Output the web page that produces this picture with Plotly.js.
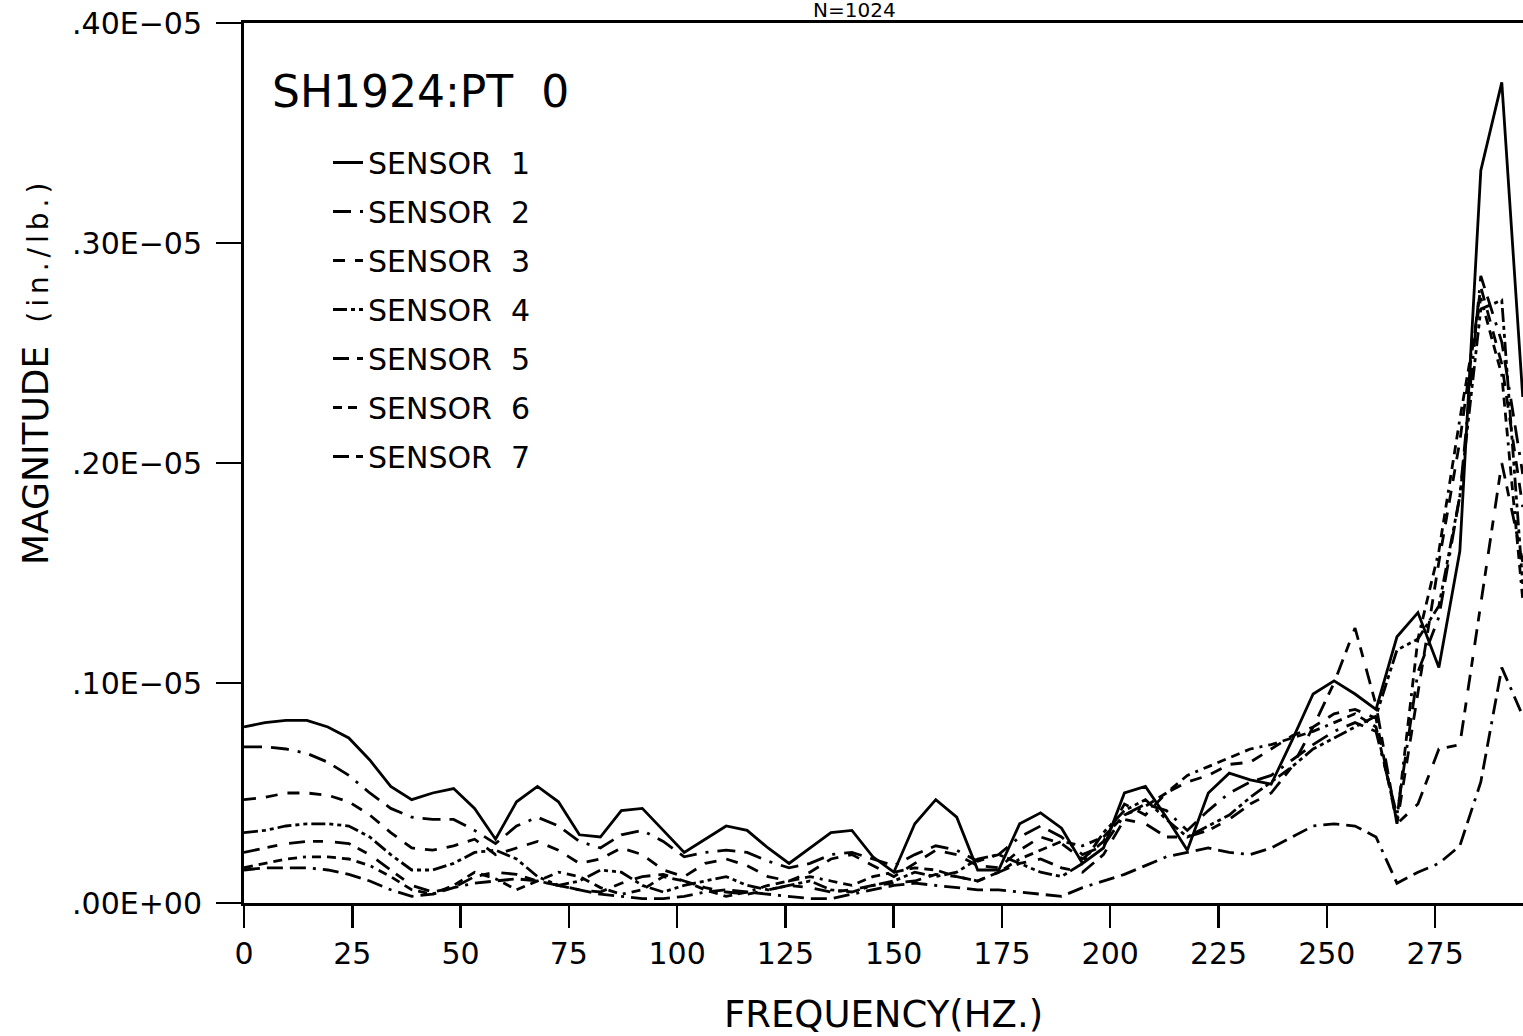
<!DOCTYPE html>
<html>
<head>
<meta charset="utf-8">
<script src="https://cdn.plot.ly/plotly-3.0.1.min.js"></script>
<style>html,body{margin:0;padding:0;background:#fff;}#chart{width:1523px;height:1036px;}</style>
</head>
<body>
<div id="chart"></div>
<script>
// Frequency (Hz) of each spectral line
const freq = [0, 4.84, 9.68, 14.52, 19.36, 24.2, 29.04, 33.88, 38.72, 43.56, 48.4, 53.24, 58.08, 62.92, 67.76, 72.6, 77.44, 82.28, 87.12, 91.96, 96.8, 101.64, 106.48, 111.32, 116.16, 121, 125.84, 130.68, 135.52, 140.36, 145.2, 150.04, 154.88, 159.72, 164.56, 169.4, 174.24, 179.08, 183.92, 188.76, 193.6, 198.44, 203.28, 208.12, 212.96, 217.8, 222.64, 227.48, 232.32, 237.16, 242, 246.84, 251.68, 256.52, 261.36, 266.2, 271.04, 275.88, 280.72, 285.56, 290.4, 295.24];

// Magnitudes in units of 1E-06 in./lb.
const sensor1 = [0.80,0.82,0.83,0.83,0.80,0.75,0.65,0.53,0.47,0.50,0.52,0.43,0.29,0.46,0.53,0.46,0.31,0.30,0.42,0.43,0.33,0.23,0.29,0.35,0.33,0.25,0.18,0.25,0.32,0.33,0.21,0.14,0.36,0.47,0.39,0.15,0.15,0.36,0.41,0.34,0.18,0.25,0.50,0.53,0.39,0.24,0.50,0.59,0.56,0.54,0.74,0.95,1.01,0.95,0.88,1.21,1.32,1.07,1.60,3.33,3.73,2.30];
const sensor2 = [0.71,0.71,0.70,0.68,0.64,0.58,0.50,0.43,0.39,0.38,0.38,0.33,0.27,0.35,0.39,0.35,0.28,0.25,0.31,0.33,0.28,0.21,0.23,0.24,0.23,0.19,0.16,0.18,0.22,0.23,0.20,0.17,0.22,0.26,0.24,0.19,0.22,0.30,0.35,0.30,0.22,0.26,0.40,0.45,0.42,0.33,0.42,0.50,0.55,0.58,0.65,0.72,0.78,0.82,0.78,0.40,1.05,1.30,1.85,2.85,2.55,1.95];
const sensor3 = [0.47,0.48,0.50,0.50,0.49,0.46,0.40,0.32,0.25,0.24,0.26,0.29,0.22,0.25,0.28,0.24,0.18,0.20,0.25,0.22,0.15,0.12,0.18,0.20,0.17,0.12,0.10,0.14,0.20,0.22,0.17,0.12,0.18,0.24,0.22,0.17,0.16,0.24,0.30,0.27,0.20,0.28,0.45,0.40,0.50,0.55,0.58,0.63,0.64,0.70,0.76,0.80,0.86,0.88,0.84,0.36,0.95,1.55,2.10,2.80,2.45,1.80];
const sensor4 = [0.32,0.33,0.35,0.36,0.36,0.35,0.30,0.22,0.15,0.15,0.18,0.23,0.24,0.20,0.12,0.08,0.10,0.15,0.14,0.08,0.05,0.08,0.10,0.12,0.08,0.06,0.08,0.10,0.06,0.05,0.08,0.10,0.14,0.12,0.14,0.20,0.22,0.18,0.14,0.12,0.18,0.32,0.42,0.47,0.38,0.30,0.35,0.40,0.48,0.55,0.62,0.70,0.75,0.80,0.85,1.15,1.20,1.35,1.85,2.70,2.74,1.45];
const sensor5 = [0.23,0.25,0.27,0.28,0.28,0.27,0.22,0.15,0.08,0.05,0.07,0.12,0.14,0.13,0.10,0.08,0.06,0.05,0.09,0.12,0.13,0.10,0.07,0.05,0.04,0.06,0.08,0.07,0.05,0.06,0.08,0.09,0.10,0.13,0.12,0.10,0.14,0.18,0.20,0.16,0.14,0.22,0.38,0.36,0.30,0.30,0.33,0.38,0.45,0.50,0.62,0.80,1.00,1.25,0.90,0.36,0.45,0.70,0.72,1.35,2.00,1.55];
const sensor6 = [0.16,0.18,0.20,0.21,0.21,0.20,0.17,0.12,0.06,0.04,0.08,0.14,0.11,0.06,0.10,0.14,0.12,0.07,0.04,0.06,0.12,0.10,0.06,0.03,0.05,0.08,0.10,0.12,0.10,0.08,0.12,0.14,0.16,0.15,0.12,0.10,0.14,0.20,0.24,0.28,0.26,0.30,0.40,0.44,0.50,0.58,0.62,0.66,0.70,0.72,0.75,0.78,0.82,0.86,0.80,0.38,1.20,1.60,2.20,2.75,2.40,1.38];
const sensor7 = [0.15,0.16,0.16,0.16,0.15,0.13,0.10,0.06,0.03,0.04,0.07,0.09,0.10,0.11,0.10,0.08,0.06,0.04,0.03,0.02,0.02,0.03,0.05,0.06,0.05,0.04,0.03,0.02,0.02,0.04,0.06,0.08,0.09,0.08,0.07,0.06,0.06,0.05,0.04,0.03,0.07,0.10,0.13,0.17,0.21,0.23,0.25,0.23,0.22,0.25,0.30,0.35,0.36,0.35,0.30,0.09,0.14,0.18,0.26,0.55,1.07,0.85];

const sensorNames = ['SENSOR  1','SENSOR  2','SENSOR  3','SENSOR  4','SENSOR  5','SENSOR  6','SENSOR  7'];
const xTicks = [0,25,50,75,100,125,150,175,200,225,250,275];
const yTickVals = [0,1,2,3,4];
const yTickText = ['.00E+00','.10E\u221205','.20E\u221205','.30E\u221205','.40E\u221205'];

const series = [sensor1, sensor2, sensor3, sensor4, sensor5, sensor6, sensor7];
const dashes = ['solid','18px,9px,18px,9px,3px,9px','12px,10px','14px,4px,4px,4px,4px,4px','16px,8px,10px,12px','9px,6px,9px,6px,9px,6px,9px,6px,3px,6px','16px,7px,16px,7px,16px,7px,3px,7px'];

const FONT = 'DejaVu Sans, Liberation Sans, sans-serif';

const traces = series.map((vals, i) => ({
  type: 'scatter',
  mode: 'lines',
  x: freq,
  y: vals,
  name: sensorNames[i],
  legendgroup: 'g' + i,
  line: {color: '#000', width: 2.8, dash: dashes[i]},
  hoverinfo: 'x+y+name'
}));

const layout = {
  width: 1523,
  height: 1036,
  margin: {l: 244, r: 0, t: 23, b: 133},
  paper_bgcolor: '#fff',
  plot_bgcolor: '#fff',
  font: {family: FONT, color: '#000', size: 30},
  title: {text: 'N=1024', x: 0.561, xanchor: 'center', xref: 'container', y: 0.997, yref: 'container', yanchor: 'top', pad: {t: 0, b: 0}, font: {size: 20, family: FONT, color: '#000'}},
  xaxis: {
    range: [0, 295.3],
    tickmode: 'array',
    tickvals: xTicks,
    ticktext: xTicks.map(String),
    ticks: 'outside',
    ticklen: 22,
    tickwidth: 2.5,
    tickcolor: '#000',
    showline: true,
    mirror: true,
    linewidth: 3,
    linecolor: '#000',
    showgrid: false,
    zeroline: false,
    tickfont: {size: 30, family: FONT},
    title: {text: 'FREQUENCY(HZ.)', font: {size: 37, family: FONT}, standoff: 40}
  },
  yaxis: {
    range: [0, 4],
    tickmode: 'array',
    tickvals: yTickVals,
    ticktext: yTickText,
    ticks: 'outside',
    ticklen: 25,
    tickwidth: 2.5,
    tickcolor: '#000',
    showline: true,
    linewidth: 3,
    linecolor: '#000',
    showgrid: false,
    zeroline: false,
    tickfont: {size: 30, family: FONT},
    ticklabelstandoff: 8,
    title: {text: ''}
  },
  showlegend: true,
  legend: {
    x: (328 - 244) / 1279, y: 0.871, xanchor: 'left', yanchor: 'top',
    font: {size: 30, family: FONT, color: '#000'},
    bgcolor: 'rgba(0,0,0,0)',
    borderwidth: 0,
    tracegroupgap: 7,
    itemwidth: 30,
    itemclick: false, itemdoubleclick: false
  },
  annotations: [
    {text: 'SH1924:PT  0', xref: 'paper', yref: 'paper', x: (270 - 244) / 1279, y: 1 - (92 - 23) / 880, xanchor: 'left', yanchor: 'middle', showarrow: false, font: {size: 44, family: FONT, color: '#000'}},
    {text: 'MAGNITUDE  <span style="font-size:28px;letter-spacing:5px">(in./lb.)</span>', xref: 'paper', yref: 'paper', x: (35 - 244) / 1279, y: 1 - (372 - 23) / 880, xanchor: 'center', yanchor: 'middle', textangle: -90, showarrow: false, font: {size: 36, family: FONT, color: '#000'}}
  ]
};

Plotly.newPlot('chart', traces, layout, {displayModeBar: false, staticPlot: true});
</script>
</body>
</html>
